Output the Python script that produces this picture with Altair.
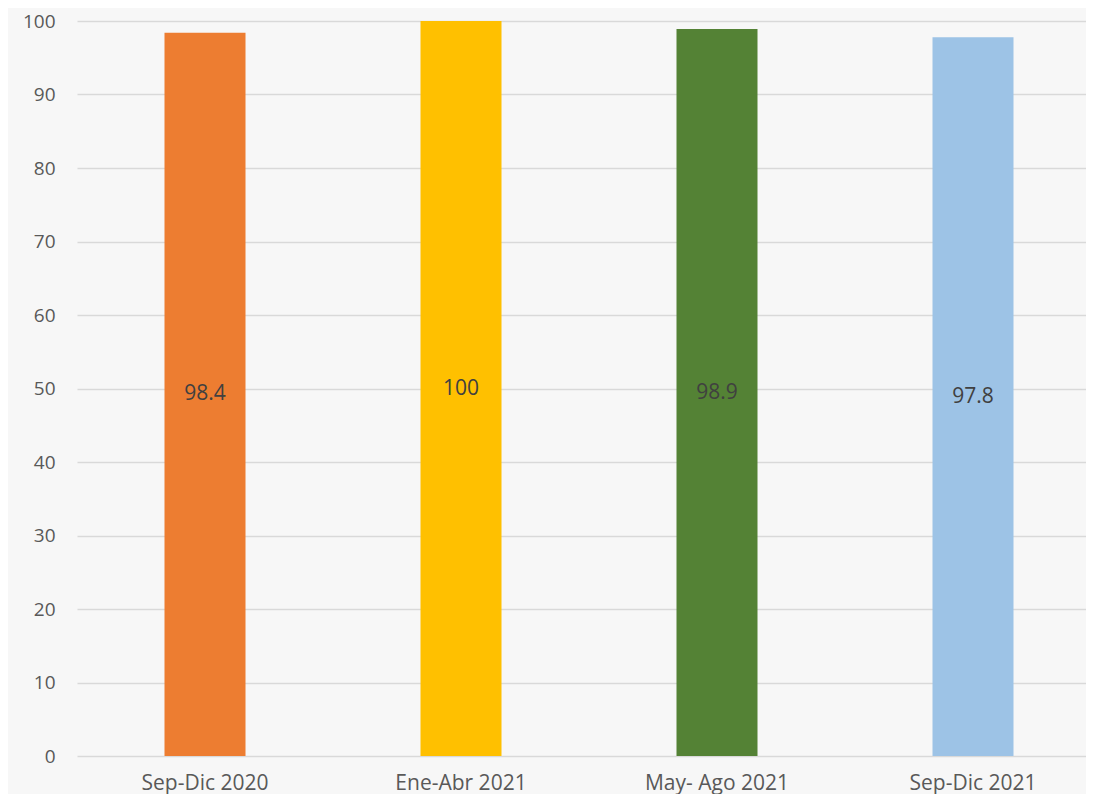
import altair as alt
import pandas as pd

categories = ["Sep-Dic 2020", "Ene-Abr 2021", "May- Ago 2021", "Sep-Dic 2021"]
values = [98.4, 100, 98.9, 97.8]
colors = ["#ED7D31", "#FFC000", "#548235", "#9DC3E6"]

df = pd.DataFrame({"periodo": categories, "valor": values})
df["mitad"] = df["valor"] / 2
df["etiqueta"] = [f"{v:g}" for v in values]

xscale = alt.Scale(range=[0, 1024], paddingInner=0, paddingOuter=0)

x = alt.X("periodo:N", sort=categories, title=None, scale=xscale,
          axis=alt.Axis(labelAngle=0, labelFont="Open Sans", labelFontSize=21,
                        labelColor="#595959", labelPadding=16, domain=False,
                        ticks=False, grid=False))

bars = alt.Chart(df).mark_bar(size=81).encode(
    x=x,
    y=alt.Y("valor:Q", title=None,
            scale=alt.Scale(domain=[0, 100], nice=False),
            axis=alt.Axis(values=list(range(0, 101, 10)), labelFont="Open Sans",
                          labelFontSize=19, labelColor="#595959", labelPadding=22,
                          domain=False, ticks=False, gridColor="#d9d9d9",
                          gridWidth=1.5)),
    color=alt.Color("periodo:N", sort=categories,
                    scale=alt.Scale(domain=categories, range=colors), legend=None),
)

text = alt.Chart(df).mark_text(font="Open Sans", fontSize=21, color="#404040",
                               baseline="middle", align="center").encode(
    x=alt.X("periodo:N", sort=categories, scale=xscale),
    y=alt.Y("mitad:Q"),
    text="etiqueta:N",
)

chart = (bars + text).properties(
    width=1009, height=735,
    autosize=alt.AutoSizeParams(type="none"),
    padding={"left": 69, "top": 13, "right": 0, "bottom": 38},
    background="#f7f7f7",
).configure_view(stroke=None)

chart.save("out.html", embed_options={"renderer": "svg", "actions": False})
